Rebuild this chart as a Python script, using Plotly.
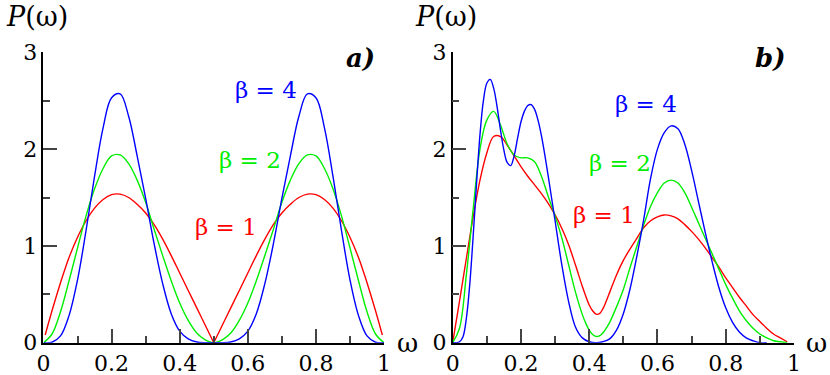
import plotly.graph_objects as go
from plotly.subplots import make_subplots

# panel a) - symmetric about 0.5
red_a_x = [0.005, 0.025, 0.05, 0.075, 0.1, 0.125, 0.15, 0.175, 0.2, 0.225, 0.25, 0.275, 0.3, 0.325, 0.35, 0.375, 0.4, 0.425, 0.45, 0.475, 0.5,
           0.525, 0.55, 0.575, 0.6, 0.625, 0.65, 0.675, 0.7, 0.725, 0.75, 0.775, 0.8, 0.825, 0.85, 0.875, 0.9, 0.925, 0.95, 0.975, 0.995]
red_a_y = [0.08, 0.33, 0.62, 0.88, 1.09, 1.26, 1.39, 1.48, 1.53, 1.535, 1.50, 1.43, 1.34, 1.22, 1.07, 0.90, 0.72, 0.54, 0.36, 0.18, 0.0,
           0.18, 0.36, 0.54, 0.72, 0.90, 1.07, 1.22, 1.34, 1.43, 1.50, 1.535, 1.53, 1.48, 1.39, 1.26, 1.09, 0.88, 0.62, 0.33, 0.08]

ab_x = [0, 0.025, 0.05, 0.075, 0.1, 0.125, 0.15, 0.175, 0.2, 0.225, 0.25, 0.275, 0.3, 0.325, 0.35, 0.375, 0.4, 0.425, 0.45, 0.475, 0.5,
        0.525, 0.55, 0.575, 0.6, 0.625, 0.65, 0.675, 0.7, 0.725, 0.75, 0.775, 0.8, 0.825, 0.85, 0.875, 0.9, 0.925, 0.95, 0.975, 1.0]
green_a_y = [0, 0.09, 0.32, 0.64, 0.98, 1.31, 1.59, 1.80, 1.93, 1.94, 1.85, 1.68, 1.45, 1.17, 0.90, 0.64, 0.41, 0.23, 0.10, 0.03, 0.0,
             0.03, 0.10, 0.23, 0.41, 0.64, 0.90, 1.17, 1.45, 1.68, 1.85, 1.94, 1.93, 1.80, 1.59, 1.31, 0.98, 0.64, 0.32, 0.09, 0]
blue_a_y = [0, 0.005, 0.07, 0.28, 0.65, 1.16, 1.72, 2.22, 2.53, 2.57, 2.34, 1.93, 1.49, 1.02, 0.61, 0.30, 0.12, 0.04, 0.008, 0.0, 0.0,
            0.0, 0.008, 0.04, 0.12, 0.30, 0.61, 1.02, 1.49, 1.93, 2.34, 2.57, 2.53, 2.22, 1.72, 1.16, 0.65, 0.28, 0.07, 0.005, 0]

# panel b)
red_b_x = [0, 0.02, 0.04, 0.06, 0.08, 0.1, 0.12, 0.14, 0.16, 0.18, 0.2, 0.22, 0.24, 0.26, 0.28, 0.3, 0.32, 0.34, 0.36, 0.38,
           0.39, 0.4, 0.41, 0.42, 0.43, 0.44, 0.45, 0.46, 0.48, 0.5, 0.52, 0.54, 0.56, 0.58, 0.6, 0.62, 0.64, 0.66, 0.68, 0.7,
           0.72, 0.74, 0.76, 0.78, 0.8, 0.82, 0.84, 0.86, 0.88, 0.9, 0.92, 0.94, 0.96, 0.98]
red_b_y = [0, 0.43, 0.87, 1.30, 1.68, 1.96, 2.13, 2.13, 2.04, 1.93, 1.82, 1.72, 1.63, 1.54, 1.44, 1.32, 1.18, 1.01, 0.80, 0.58,
           0.48, 0.39, 0.33, 0.295, 0.30, 0.35, 0.43, 0.52, 0.70, 0.85, 0.97, 1.08, 1.19, 1.26, 1.30, 1.32, 1.31, 1.28, 1.22, 1.15,
           1.07, 0.98, 0.88, 0.78, 0.67, 0.57, 0.47, 0.38, 0.29, 0.22, 0.15, 0.09, 0.05, 0.01]

green_b_x = [0, 0.02, 0.04, 0.06, 0.08, 0.1, 0.12, 0.14, 0.16, 0.18, 0.2, 0.22, 0.24, 0.26, 0.28, 0.3, 0.32, 0.34, 0.36, 0.38,
             0.39, 0.4, 0.41, 0.42, 0.43, 0.44, 0.45, 0.46, 0.48, 0.5, 0.52, 0.54, 0.56, 0.58, 0.6, 0.62, 0.64, 0.66, 0.68, 0.7,
             0.72, 0.74, 0.76, 0.78, 0.8, 0.82, 0.84, 0.86, 0.88, 0.9, 0.92, 0.94, 0.96, 0.98]
green_b_y = [0, 0.15, 0.70, 1.38, 2.00, 2.30, 2.39, 2.25, 2.05, 1.94, 1.91, 1.91, 1.87, 1.72, 1.51, 1.31, 1.08, 0.80, 0.52, 0.29,
             0.20, 0.13, 0.085, 0.065, 0.07, 0.10, 0.15, 0.21, 0.37, 0.55, 0.78, 1.00, 1.22, 1.41, 1.55, 1.65, 1.68, 1.65, 1.55, 1.40,
             1.24, 1.08, 0.92, 0.76, 0.60, 0.46, 0.33, 0.23, 0.15, 0.09, 0.05, 0.02, 0.01, 0.0]

blue_b_x = [0, 0.01, 0.02, 0.03, 0.04, 0.05, 0.06, 0.07, 0.08, 0.09, 0.1, 0.11, 0.12, 0.13, 0.14, 0.15, 0.16, 0.17, 0.18, 0.19,
            0.2, 0.21, 0.22, 0.23, 0.24, 0.25, 0.26, 0.27, 0.28, 0.29, 0.3, 0.32, 0.34, 0.36, 0.38, 0.4, 0.42, 0.44, 0.46, 0.48,
            0.5, 0.52, 0.54, 0.56, 0.58, 0.6, 0.62, 0.64, 0.66, 0.68, 0.7, 0.72, 0.74, 0.76, 0.78, 0.8, 0.82, 0.84, 0.86, 0.88,
            0.9, 0.92]
blue_b_y = [0, 0, 0.01, 0.06, 0.25, 0.60, 1.10, 1.65, 2.15, 2.50, 2.68, 2.72, 2.63, 2.44, 2.20, 1.99, 1.86, 1.83, 1.93, 2.11,
            2.28, 2.39, 2.45, 2.46, 2.41, 2.30, 2.14, 1.94, 1.72, 1.49, 1.26, 0.80, 0.42, 0.16, 0.05, 0.01, 0.0, 0.01, 0.04, 0.13,
            0.30, 0.56, 0.90, 1.28, 1.70, 2.00, 2.17, 2.24, 2.21, 2.05, 1.78, 1.46, 1.14, 0.84, 0.57, 0.36, 0.21, 0.11, 0.05, 0.02,
            0.0, 0.0]

x_ticks = [0, 0.2, 0.4, 0.6, 0.8, 1]
x_ticktext = ["0", "0.2", "0.4", "0.6", "0.8", "1"]
y_ticks = [0, 1, 2, 3]

RED, GREEN, BLUE = "#ff0000", "#00ee00", "#0000ff"
FONT = "DejaVu Serif"

fig = make_subplots(rows=1, cols=2)

def line(x, y, color, col):
    fig.add_trace(go.Scatter(x=x, y=y, mode="lines", line=dict(color=color, width=1.4, shape="spline", smoothing=1),
                             showlegend=False, hoverinfo="skip"), row=1, col=col)

# red in a) has a sharp corner at 0.5, draw it in two pieces
i = red_a_x.index(0.5)
line(red_a_x[:i + 1], red_a_y[:i + 1], RED, 1)
line(red_a_x[i:], red_a_y[i:], RED, 1)
line(ab_x, green_a_y, GREEN, 1)
line(ab_x, blue_a_y, BLUE, 1)

line(red_b_x, red_b_y, RED, 2)
line(green_b_x, green_b_y, GREEN, 2)
line(blue_b_x, blue_b_y, BLUE, 2)

axis_common = dict(showline=True, linecolor="black", linewidth=1.5, ticks="inside", ticklen=14, tickwidth=1.5,
                   tickcolor="#444", showgrid=False, zeroline=False, automargin=False,
                   tickfont=dict(family=FONT, size=22, color="black"))

for n, dom in [(1, [0.0524, 0.4627]), (2, [0.5454, 0.9566])]:
    s = "" if n == 1 else str(n)
    fig.update_layout(**{
        "xaxis" + s: dict(axis_common, domain=dom, range=[0, 1], tickvals=x_ticks, ticktext=x_ticktext,
                          minor=dict(ticks="inside", ticklen=7, tickwidth=1.5, tickcolor="#444",
                                     tickvals=[0.1, 0.3, 0.5, 0.7, 0.9])),
        "yaxis" + s: dict(axis_common, domain=[0.0861, 0.8605], range=[0, 3], tickvals=y_ticks,
                          minor=dict(ticks="inside", ticklen=7, tickwidth=1.5, tickcolor="#444",
                                     tickvals=[0.5, 1.5, 2.5])),
    })

annotations = []
labels = [
    ("x", "y", 0.653, 2.61, "β = 4", BLUE),
    ("x", "y", 0.606, 1.89, "β = 2", GREEN),
    ("x", "y", 0.535, 1.20, "β = 1", RED),
    ("x2", "y2", 0.566, 2.47, "β = 4", BLUE),
    ("x2", "y2", 0.490, 1.86, "β = 2", GREEN),
    ("x2", "y2", 0.443, 1.32, "β = 1", RED),
]
for xr, yr, x, y, t, c in labels:
    annotations.append(dict(xref=xr, yref=yr, x=x, y=y, text=t, showarrow=False, xanchor="center", yanchor="middle",
                            font=dict(family=FONT, size=23, color=c)))

for xr, yr in [("x", "y"), ("x2", "y2")]:
    tag = "a)" if xr == "x" else "b)"
    annotations.append(dict(xref=xr, yref=yr, x=0.93, y=2.94, text=f"<b><i>{tag}</i></b>", showarrow=False,
                            xanchor="center", yanchor="middle", font=dict(family=FONT, size=26, color="black")))

# labels outside the plot areas, in paper coordinates
for px in [0.0446, 0.5373]:
    annotations.append(dict(xref="paper", yref="paper", x=px, y=0.9547, text="<i>P</i>(ω)", showarrow=False,
                            xanchor="center", yanchor="middle", font=dict(family=FONT, size=27, color="black")))
for px in [0.4904, 0.9843]:
    annotations.append(dict(xref="paper", yref="paper", x=px, y=0.0853, text="ω", showarrow=False,
                            xanchor="center", yanchor="middle", font=dict(family=FONT, size=26, color="black")))

fig.update_layout(width=830, height=375, margin=dict(l=0, r=0, t=0, b=0),
                  paper_bgcolor="white", plot_bgcolor="white", annotations=annotations)

# the page body has a default 8px margin, drop it so the figure sits at the window corner
fig.write_html("out.html", config={"displayModeBar": False},
               post_script="document.body.style.margin='0';")
